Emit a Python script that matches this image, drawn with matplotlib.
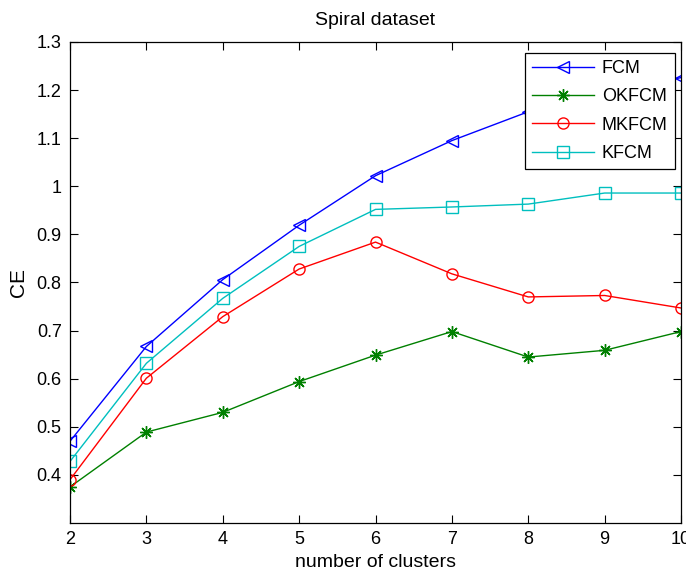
import matplotlib
matplotlib.use("Agg")
import matplotlib.pyplot as plt

clusters = [2, 3, 4, 5, 6, 7, 8, 9, 10]
fcm = [0.47, 0.667, 0.806, 0.919, 1.022, 1.095, 1.155, 1.19, 1.226]
okfcm = [0.375, 0.489, 0.53, 0.594, 0.649, 0.698, 0.645, 0.659, 0.698]
mkfcm = [0.39, 0.601, 0.729, 0.828, 0.884, 0.818, 0.77, 0.773, 0.747]
kfcm = [0.428, 0.632, 0.767, 0.875, 0.952, 0.957, 0.963, 0.986, 0.986]
yticks = [0.4, 0.5, 0.6, 0.7, 0.8, 0.9, 1.0, 1.1, 1.2, 1.3]
ytick_labels = ["0.4", "0.5", "0.6", "0.7", "0.8", "0.9", "1", "1.1", "1.2", "1.3"]

plt.rcParams['font.family'] = ['Liberation Sans', 'DejaVu Sans']

fig = plt.figure(figsize=(6.86, 5.74), dpi=100)
ax = fig.add_axes([70/686, 51/574, 611/686, 481/574])

ax.plot(clusters, fcm, color=(0, 0, 1), marker='<', markersize=9,
        markerfacecolor='none', markeredgewidth=1.0, linewidth=1.0, label='FCM')
ax.plot(clusters, okfcm, color=(0, 0.5, 0), marker=(8, 2, 0), markersize=9,
        markeredgewidth=1.0, linewidth=1.0, label='OKFCM')
ax.plot(clusters, mkfcm, color=(1, 0, 0), marker='o', markersize=8,
        markerfacecolor='none', markeredgewidth=1.0, linewidth=1.0, label='MKFCM')
ax.plot(clusters, kfcm, color=(0, 0.75, 0.75), marker='s', markersize=8,
        markerfacecolor='none', markeredgewidth=1.0, linewidth=1.0, label='KFCM')

ax.set_xlim(2, 10)
ax.set_ylim(0.3, 1.3)
ax.set_xticks(clusters)
ax.set_xticklabels([str(c) for c in clusters])
ax.set_yticks(yticks)
ax.set_yticklabels(ytick_labels)
ax.tick_params(direction='in', top=True, right=True, length=6, width=0.8,
               labelsize=13, pad=6)
for s in ax.spines.values():
    s.set_linewidth(0.9)
    s.set_color('black')

ax.set_xlabel('number of clusters', fontsize=14, labelpad=4)
ax.set_ylabel('CE', fontsize=15, labelpad=6)
ax.set_title('Spiral dataset', fontsize=14, pad=12)

leg = ax.legend(loc='upper right', bbox_to_anchor=(0.99, 0.977), fontsize=13,
                fancybox=False, framealpha=1, edgecolor='black',
                borderpad=0.4, labelspacing=0.62, handlelength=3.4,
                handletextpad=0.45, borderaxespad=0)
leg.get_frame().set_linewidth(0.9)

fig.savefig('out.png', dpi=100)
